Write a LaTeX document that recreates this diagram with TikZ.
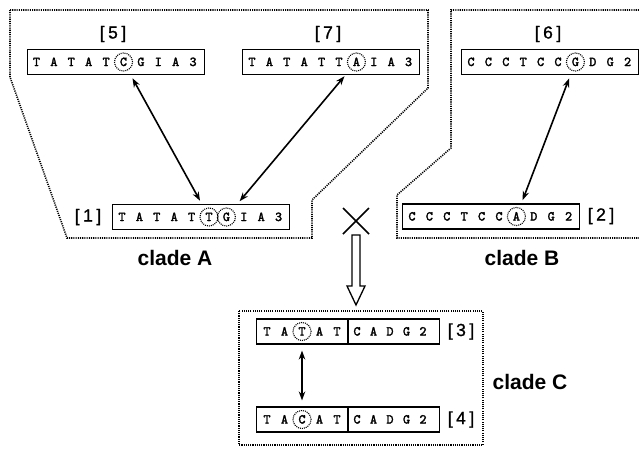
\documentclass[tikz,border=0pt]{standalone}
\usepackage{fontspec}
\setmainfont{Liberation Sans}
\newfontfamily\seqfont{lmmono10-regular.otf}[FakeBold=2.2]
\newfontfamily\labfont{Liberation Sans}[FakeBold=1]
\usetikzlibrary{arrows.meta}
\newcommand\seqrow[5]{% name, left x, centre y, letters, width
  \node[seqbox, minimum width=#5pt] (#1) at (#2,#3) {};
  \foreach \ch [count=\i from 0] in {#4} {
    \node[letter] (#1-\i) at (#2+10+\i*17.4,#3) {\ch};
  }
}
\begin{document}
\begin{tikzpicture}[x=1pt,y=-1pt,
  seqbox/.style={draw, line width=1.3pt, minimum height=25pt, inner sep=0pt, anchor=west},
  letter/.style={inner sep=0pt, text height=8pt, text depth=0pt, font=\seqfont\fontsize{13.5}{13.5}\selectfont},
  ring/.style={draw, circle, minimum size=18pt, inner sep=0pt, line width=1.1pt, dash pattern=on 1pt off 1pt},
  lab/.style={inner sep=0pt, font=\labfont\fontsize{17.5}{17.5}\selectfont},
  clade/.style={inner sep=0pt, font=\bfseries\fontsize{21}{21}\selectfont},
  region/.style={line width=1.6pt, dash pattern=on 1.1pt off 1.1pt},
  link/.style={{Stealth[length=9pt,width=6.5pt]}-{Stealth[length=9pt,width=6.5pt]}, line width=1.6pt},
  plain/.style={line width=1.3pt}]
\useasboundingbox (0,0) rectangle (639,448);

% clade regions
\draw[region] (10,10) -- (428,10) -- (428,88) -- (312,200) -- (312,238) -- (67,238) -- (10,77) -- cycle;
\draw[region] (639,10) -- (451,10) -- (451,148) -- (397,195) -- (397,238) -- (639,238);
\draw[region] (239,311) rectangle (483,445);

% clade A
\seqrow{b5}{26.5}{62}{T,A,T,A,T,C,G,I,A,3}{177}
\seqrow{b7}{242}{62}{T,A,T,A,T,T,A,I,A,3}{177}
\seqrow{b1}{112}{217}{T,A,T,A,T,T,G,I,A,3}{177}
\node[ring] (c5) at (b5-5) {};
\node[ring] (c7) at (b7-6) {};
\node[ring] (c1a) at (b1-5) {};
\node[ring] (c1b) at (b1-6) {};
\node[lab] (l5) at (113,34) {[\kern3.5pt5\kern3.5pt]};
\node[lab] (l7) at (328,34) {[\kern3.5pt7\kern3.5pt]};
\node[lab] (l1) at (88,217) {[\kern3.5pt1\kern3.5pt]};
\node[clade] (ca) at (175,258) {clade A};
\draw[link, shorten <=9pt, shorten >=9pt] (c5) -- (c1a);
\draw[link, shorten <=9pt, shorten >=11pt] (c7) -- (c1b);

% clade B
\seqrow{b6}{461}{62}{C,C,C,T,C,C,G,D,G,2}{177}
\seqrow{b2}{402}{216.5}{C,C,C,T,C,C,A,D,G,2}{177}
\node[ring] (c6) at (b6-6) {};
\node[ring] (c2) at (b2-6) {};
\node[lab] (l6) at (548,34) {[\kern3.5pt6\kern3.5pt]};
\node[lab] (l2) at (601,216) {[\kern3.5pt2\kern3.5pt]};
\node[clade] (cb) at (522,258) {clade B};
\draw[link, shorten <=8pt, shorten >=8pt] (c6) -- (c2);

% cross and hollow arrow
\coordinate (xm) at (356,221);
\draw[line width=1.7pt] (xm) ++(-13,-13) -- ++(26,26) (xm) ++(-13,13) -- ++(26,-26);
\draw[plain, fill=white] (352,235) -- (352,286) -- (347,286) -- (356,305) -- (365,286) -- (360,286) -- (360,235) -- cycle;

% clade C
\node[seqbox, minimum width=183pt] (b3) at (256,331.5) {};
\node[seqbox, minimum width=183pt] (b4) at (256,419.5) {};
\draw[line width=1.1pt] (b3.north west) ++(92,0) -- ++(0,25);
\draw[line width=1.1pt] (b4.north west) ++(92,0) -- ++(0,25);
\foreach \ch/\xx [count=\i from 0] in {T/267,A/284.5,T/302,A/319.5,T/337,C/357,A/373.5,D/390,G/406.5,2/423}
  \node[letter] (b3-\i) at (\xx,331.5) {\ch};
\foreach \ch/\xx [count=\i from 0] in {T/267,A/284.5,C/302,A/319.5,T/337,C/357,A/373.5,D/390,G/406.5,2/423}
  \node[letter] (b4-\i) at (\xx,419.5) {\ch};
\node[ring] (c3) at (b3-2) {};
\node[ring] (c4) at (b4-2) {};
\node[lab] (l3) at (461,331.5) {[\kern3.5pt3\kern3.5pt]};
\node[lab] (l4) at (461,419.5) {[\kern3.5pt4\kern3.5pt]};
\node[clade] (cc) at (530,382) {clade C};
\draw[link, shorten <=9.5pt, shorten >=9.5pt] (c3) -- (c4);
\end{tikzpicture}
\end{document}
